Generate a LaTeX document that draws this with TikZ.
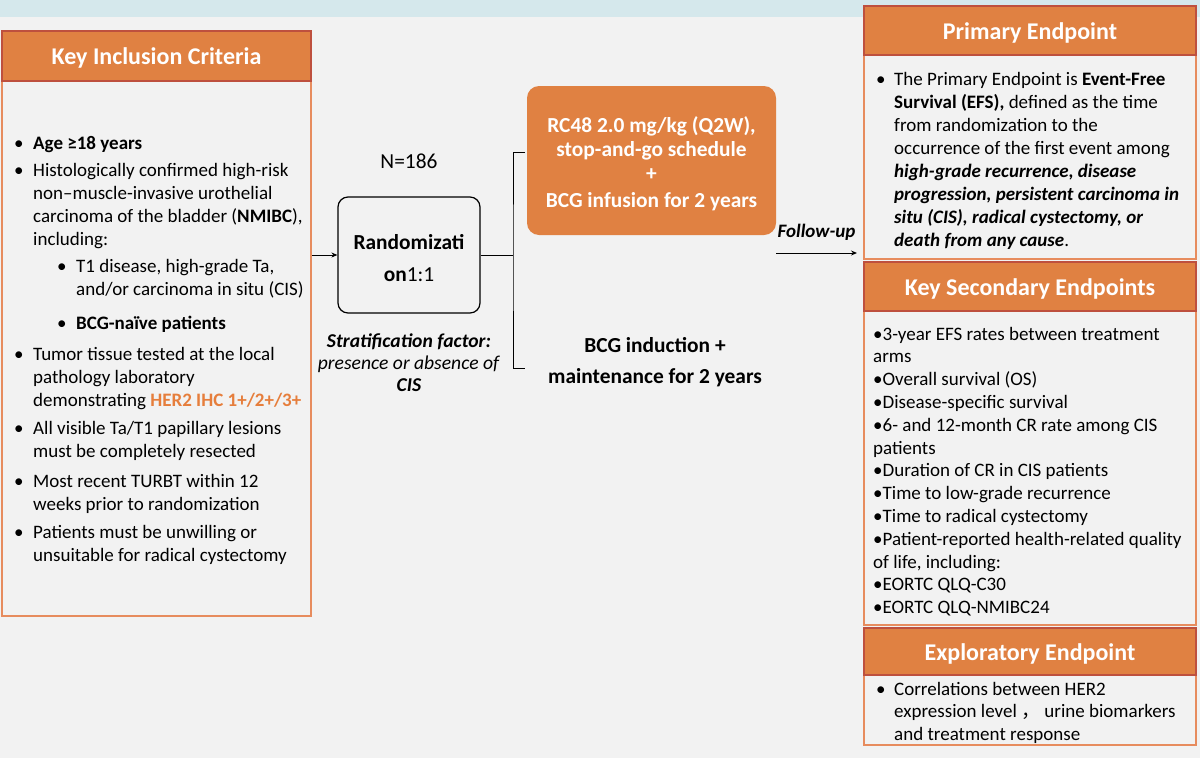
\documentclass[tikz,border=0pt]{standalone}
\usepackage{fontspec}
\setmainfont{Carlito}
\newfontfamily\cjk{Noto Sans CJK SC}
\usepackage{tikz}
\usetikzlibrary{arrows.meta,positioning}
\definecolor{pagegray}{RGB}{242,242,242}
\definecolor{bandblue}{RGB}{213,232,236}
\definecolor{headorange}{RGB}{224,129,66}
\definecolor{headedge}{RGB}{190,80,62}
\definecolor{bodyedge}{RGB}{231,140,94}
\definecolor{herorange}{RGB}{230,126,60}

\begin{document}
\begin{tikzpicture}[x=1pt, y=-1pt,
  head/.style={rectangle, draw=headedge, line width=1.5pt, fill=headorange, text=white,
               font=\fontsize{24}{28}\selectfont\bfseries, inner sep=0pt,
               text height=17.5pt, text depth=0pt},
  body/.style={rectangle, draw=bodyedge, line width=2pt, inner sep=0pt},
  list/.style={anchor=base west, inner sep=0pt, font=\fontsize{19}{23}\selectfont},
  armbox/.style={rectangle, rounded corners=12pt, fill=headorange, text=white, inner sep=0pt,
                 font=\fontsize{21.4}{24}\selectfont\bfseries},
  randbox/.style={rectangle, rounded corners=10pt, draw, line width=1.2pt, inner sep=0pt,
                  font=\fontsize{21.4}{23}\selectfont},
  arrow/.style={-{Stealth[length=6pt,width=5pt]}, line width=1pt}
]
\useasboundingbox (0,0) rectangle (1200,758);
\fill[pagegray] (0,0) rectangle (1200,758);
\fill[bandblue] (0,0) rectangle (1200,17);

% inclusion criteria
\node[body, minimum width=309pt, minimum height=535pt] (inclbody) at (156.5,348.5) {};
\node[head, minimum width=309pt, minimum height=50pt] (inclhead) at (156.5,56) {Key Inclusion Criteria};
\node[list] (incltext) at (14,149) {\begin{tabular}[t]{@{}p{19pt}@{}p{24pt}@{}p{19pt}@{}l@{}}
\textbullet & \multicolumn{3}{@{}l@{}}{\textbf{Age ≥18 years}}\\[4pt]
\textbullet & \multicolumn{3}{@{}l@{}}{Histologically confirmed high-risk}\\
 & \multicolumn{3}{@{}l@{}}{non–muscle-invasive urothelial}\\
 & \multicolumn{3}{@{}l@{}}{carcinoma of the bladder (\textbf{NMIBC}),}\\
 & \multicolumn{3}{@{}l@{}}{including:}\\[4pt]
 & & \textbullet & T1 disease, high-grade Ta,\\
 & & & and/or carcinoma in situ (CIS)\\[11pt]
 & & \textbullet & \textbf{BCG-naïve patients}\\[8pt]
\textbullet & \multicolumn{3}{@{}l@{}}{Tumor tissue tested at the local}\\
 & \multicolumn{3}{@{}l@{}}{pathology laboratory}\\
 & \multicolumn{3}{@{}l@{}}{demonstrating \textcolor{herorange}{\textbf{HER2 IHC 1+/2+/3+}}}\\[5pt]
\textbullet & \multicolumn{3}{@{}l@{}}{All visible Ta/T1 papillary lesions}\\
 & \multicolumn{3}{@{}l@{}}{must be completely resected}\\[7pt]
\textbullet & \multicolumn{3}{@{}l@{}}{Most recent TURBT within 12}\\
 & \multicolumn{3}{@{}l@{}}{weeks prior to randomization}\\[5pt]
\textbullet & \multicolumn{3}{@{}l@{}}{Patients must be unwilling or}\\
 & \multicolumn{3}{@{}l@{}}{unsuitable for radical cystectomy}
\end{tabular}};

% randomization
\node[randbox, minimum width=142pt, minimum height=116pt] (rand) at (409,255)
  {\begin{tabular}{c}\rule{0pt}{28pt}\textbf{Randomizati}\\[9pt] \textbf{on}1:1\end{tabular}};
\node[above=28pt of rand, inner sep=0pt, font=\fontsize{21.4}{23}\selectfont] (nsize) {N=186};
\node[below=18pt of rand, inner sep=0pt, font=\fontsize{19.6}{22}\selectfont] (strat)
  {\begin{tabular}{c}\textbf{\textit{Stratification factor:}}\\
   \textit{presence or absence of}\\ \textbf{\textit{CIS}}\end{tabular}};

% arms
\node[armbox, minimum width=249pt, minimum height=149pt] (armrc) at (651.5,160.5)
  {\begin{tabular}{c}\rule{0pt}{26pt}RC48 2.0 mg/kg (Q2W),\\ stop-and-go schedule\\ +\\[3pt] BCG infusion for 2 years\end{tabular}};
\node[inner sep=0pt, font=\fontsize{21.4}{23}\selectfont\bfseries] (armbcg) at (655,363)
  {\begin{tabular}{c}BCG induction +\\[8pt] maintenance for 2 years\end{tabular}};

\coordinate (branch) at (513,255);
\coordinate (armtop) at (525,152);
\coordinate (armbot) at (525,368);
\draw[arrow] (inclbody.east |- rand.west) -- (rand.west);
\draw[line width=1pt] (rand.east) -- (branch);
\draw[line width=1pt] (armtop) -| (branch) |- (armbot);

% follow-up
\coordinate (fustart) at (776,253);
\coordinate (fuend) at (857,253);
\draw[arrow] (fustart) -- (fuend)
  node[midway, above=12pt, inner sep=0pt, font=\fontsize{19}{22}\selectfont\bfseries\itshape] (fulabel) {Follow-up};

% endpoints
\node[body, minimum width=332pt, minimum height=204pt] (primbody) at (1030,157) {};
\node[head, minimum width=332pt, minimum height=49pt] (primhead) at (1030,30.5) {Primary Endpoint};
\node[list] (primtext) at (876,85) {\begin{tabular}[t]{@{}p{18pt}@{}l@{}}
\textbullet & The Primary Endpoint is \textbf{Event-Free}\\
 & \textbf{Survival (EFS),} defined as the time\\
 & from randomization to the\\
 & occurrence of the first event among\\
 & \textbf{\textit{high-grade recurrence, disease}}\\
 & \textbf{\textit{progression, persistent carcinoma in}}\\
 & \textbf{\textit{situ (CIS), radical cystectomy, or}}\\
 & \textbf{\textit{death from any cause}}.
\end{tabular}};

\node[body, minimum width=332pt, minimum height=314pt] (secbody) at (1030,468) {};
\node[head, minimum width=332pt, minimum height=49pt] (sechead) at (1030,286.5) {Key Secondary Endpoints};
\node[list, font=\fontsize{19}{22.8}\selectfont] (sectext) at (873,340) {\begin{tabular}[t]{@{}l@{}}
•3-year EFS rates between treatment\\
arms\\
•Overall survival (OS)\\
•Disease-specific survival\\
•6- and 12-month CR rate among CIS\\
patients\\
•Duration of CR in CIS patients\\
•Time to low-grade recurrence\\
•Time to radical cystectomy\\
•Patient-reported health-related quality\\
of life, including:\\
•EORTC QLQ-C30\\
•EORTC QLQ-NMIBC24
\end{tabular}};

\node[body, minimum width=332pt, minimum height=70pt] (explbody) at (1030,710) {};
\node[head, minimum width=332pt, minimum height=47pt] (explhead) at (1030,651.5) {Exploratory Endpoint};
\node[list, font=\fontsize{19}{22.5}\selectfont] (expltext) at (876,695) {\begin{tabular}[t]{@{}p{18pt}@{}l@{}}
\textbullet & Correlations between HER2\\
 & expression level {\cjk ，} urine biomarkers\\
 & and treatment response
\end{tabular}};

\end{tikzpicture}
\end{document}
